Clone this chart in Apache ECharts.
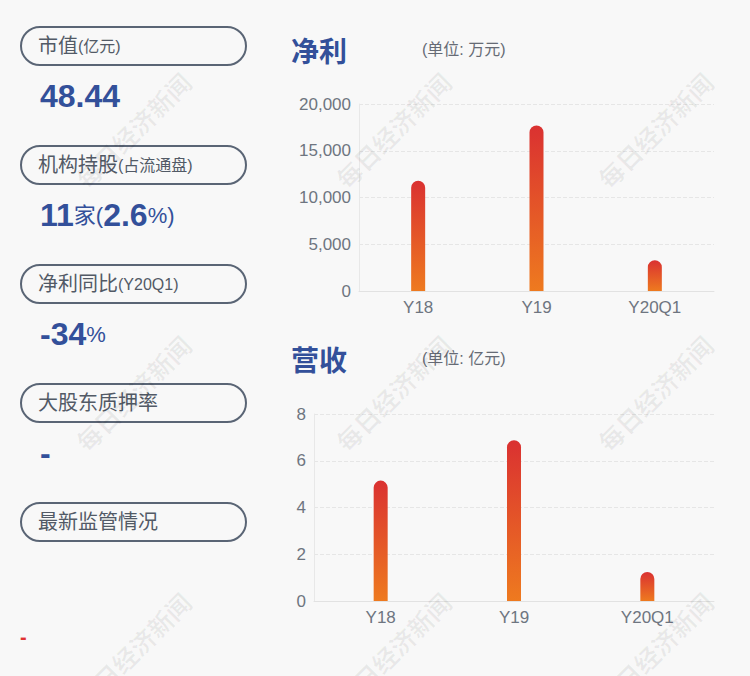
<!DOCTYPE html>
<html><head><meta charset="utf-8">
<script src="https://cdn.jsdelivr.net/npm/echarts@6/dist/echarts.min.js"></script>
<style>html,body{margin:0;padding:0;background:#f8f8f8;}#c{width:750px;height:676px;}</style>
</head><body><div id="c"></div>
<script>
const categories = ['Y18', 'Y19', 'Y20Q1'];
const netProfit = [11800, 17700, 3300];
const revenue = [5.15, 6.88, 1.24];
const profitTicks = {min: 0, max: 20000, interval: 5000};
const revenueTicks = {min: 0, max: 8, interval: 2};
const infoLabels = [
  ['市值', '(亿元)'],
  ['机构持股', '(占流通盘)'],
  ['净利同比', '(Y20Q1)'],
  ['大股东质押率', ''],
  ['最新监管情况', '']
];
const marketValue = '48.44';
const instCount = '11';
const instPct = '2.6';
const profitYoY = '-34';
const pledge = '-';

const FONT = '"Liberation Sans","Noto Sans CJK SC",sans-serif';
const BLUE = '#33509a';
const GREY = '#525a66';
const chart = echarts.init(document.getElementById('c'), null, {renderer: 'svg'});

const graphics = [];
// watermarks
[133, 393, 655].forEach(x => [130, 393, 650].forEach(y => {
  graphics.push({type: 'text', x: x, y: y, rotation: Math.PI / 4, z: 100, silent: true,
    style: {text: '每日经济新闻', fontSize: 25, fontWeight: 'bold', fontFamily: '"Noto Sans CJK SC",sans-serif',
      fill: 'rgba(0,0,0,0.06)', align: 'center', verticalAlign: 'middle'}});
}));
// pills
infoLabels.forEach((lab, i) => {
  const top = 27 + i * 119;
  graphics.push({type: 'rect', shape: {x: 21, y: top, width: 225, height: 38, r: 19},
    style: {fill: 'none', stroke: '#5a6575', lineWidth: 2}});
  graphics.push({type: 'text', x: 38, y: top + 19,
    style: {text: '{a|' + lab[0] + '}' + (lab[1] ? '{b|' + lab[1] + '}' : ''), verticalAlign: 'middle',
      rich: {a: {fontSize: 20, fill: GREY, fontFamily: FONT}, b: {fontSize: 16, fill: GREY, fontFamily: FONT}}}});
});
const big = {fontSize: 32, fontWeight: 'bold', fill: BLUE, fontFamily: FONT};
const small = {fontSize: 22, fill: BLUE, fontFamily: FONT};
const vals = [
  '{b|' + marketValue + '}',
  '{b|' + instCount + '}{s|家(}{b|' + instPct + '}{s|%)}',
  '{b|' + profitYoY + '}{s|%}',
  '{b|' + pledge + '}'
];
vals.forEach((t, i) => {
  graphics.push({type: 'text', x: 40, y: 96 + i * 119,
    style: {text: t, verticalAlign: 'middle', rich: {b: big, s: small}}});
});
graphics.push({type: 'text', x: 20, y: 637, style: {text: '-', fontSize: 20, fontWeight: 'bold', fill: '#e03232', verticalAlign: 'middle', fontFamily: FONT}});
// titles
[['净利', '(单位: 万元)', 50], ['营收', '(单位: 亿元)', 359]].forEach(t => {
  graphics.push({type: 'text', x: 291, y: t[2], style: {text: t[0], fontSize: 28, fontWeight: 'bold', fill: BLUE, verticalAlign: 'middle', fontFamily: '"Noto Sans CJK SC",sans-serif'}});
  graphics.push({type: 'text', x: 422, y: t[2] - 1, style: {text: t[1], fontSize: 16, fill: '#666b75', verticalAlign: 'middle', fontFamily: FONT}});
});

const barGrad = new echarts.graphic.LinearGradient(0, 0, 0, 1, [
  {offset: 0, color: '#da3131'}, {offset: 1, color: '#ee7a1f'}]);
const axisLabel = {color: '#6e7580', fontSize: 17, fontFamily: FONT};
function fmt(v) { return String(v).replace(/\B(?=(\d{3})+(?!\d))/g, ','); }

chart.setOption({
  backgroundColor: '#f8f8f8',
  animation: false,
  graphic: graphics,
  grid: [
    {left: 359, right: 36, top: 104, height: 187},
    {left: 314, right: 36, top: 414, height: 187}
  ],
  xAxis: [0, 1].map(i => ({
    type: 'category', gridIndex: i, data: categories,
    axisLine: {lineStyle: {color: '#e2e2e2'}}, axisTick: {show: false},
    axisLabel: Object.assign({margin: 8}, axisLabel)
  })),
  yAxis: [
    Object.assign({type: 'value', gridIndex: 0}, profitTicks, {
      axisLine: {show: true, lineStyle: {color: '#e8e8e8'}}, axisTick: {show: false},
      axisLabel: Object.assign({margin: 8, formatter: fmt}, axisLabel),
      splitLine: {lineStyle: {color: '#e6e6e6', type: 'dashed'}}}),
    Object.assign({type: 'value', gridIndex: 1}, revenueTicks, {
      axisLine: {show: true, lineStyle: {color: '#e8e8e8'}}, axisTick: {show: false},
      axisLabel: Object.assign({margin: 8}, axisLabel),
      splitLine: {lineStyle: {color: '#e6e6e6', type: 'dashed'}}})
  ],
  series: [
    {type: 'bar', xAxisIndex: 0, yAxisIndex: 0, data: netProfit, barWidth: 14,
      itemStyle: {color: barGrad, borderRadius: [7, 7, 0, 0]}},
    {type: 'bar', xAxisIndex: 1, yAxisIndex: 1, data: revenue, barWidth: 14,
      itemStyle: {color: barGrad, borderRadius: [7, 7, 0, 0]}}
  ]
});
</script></body></html>
